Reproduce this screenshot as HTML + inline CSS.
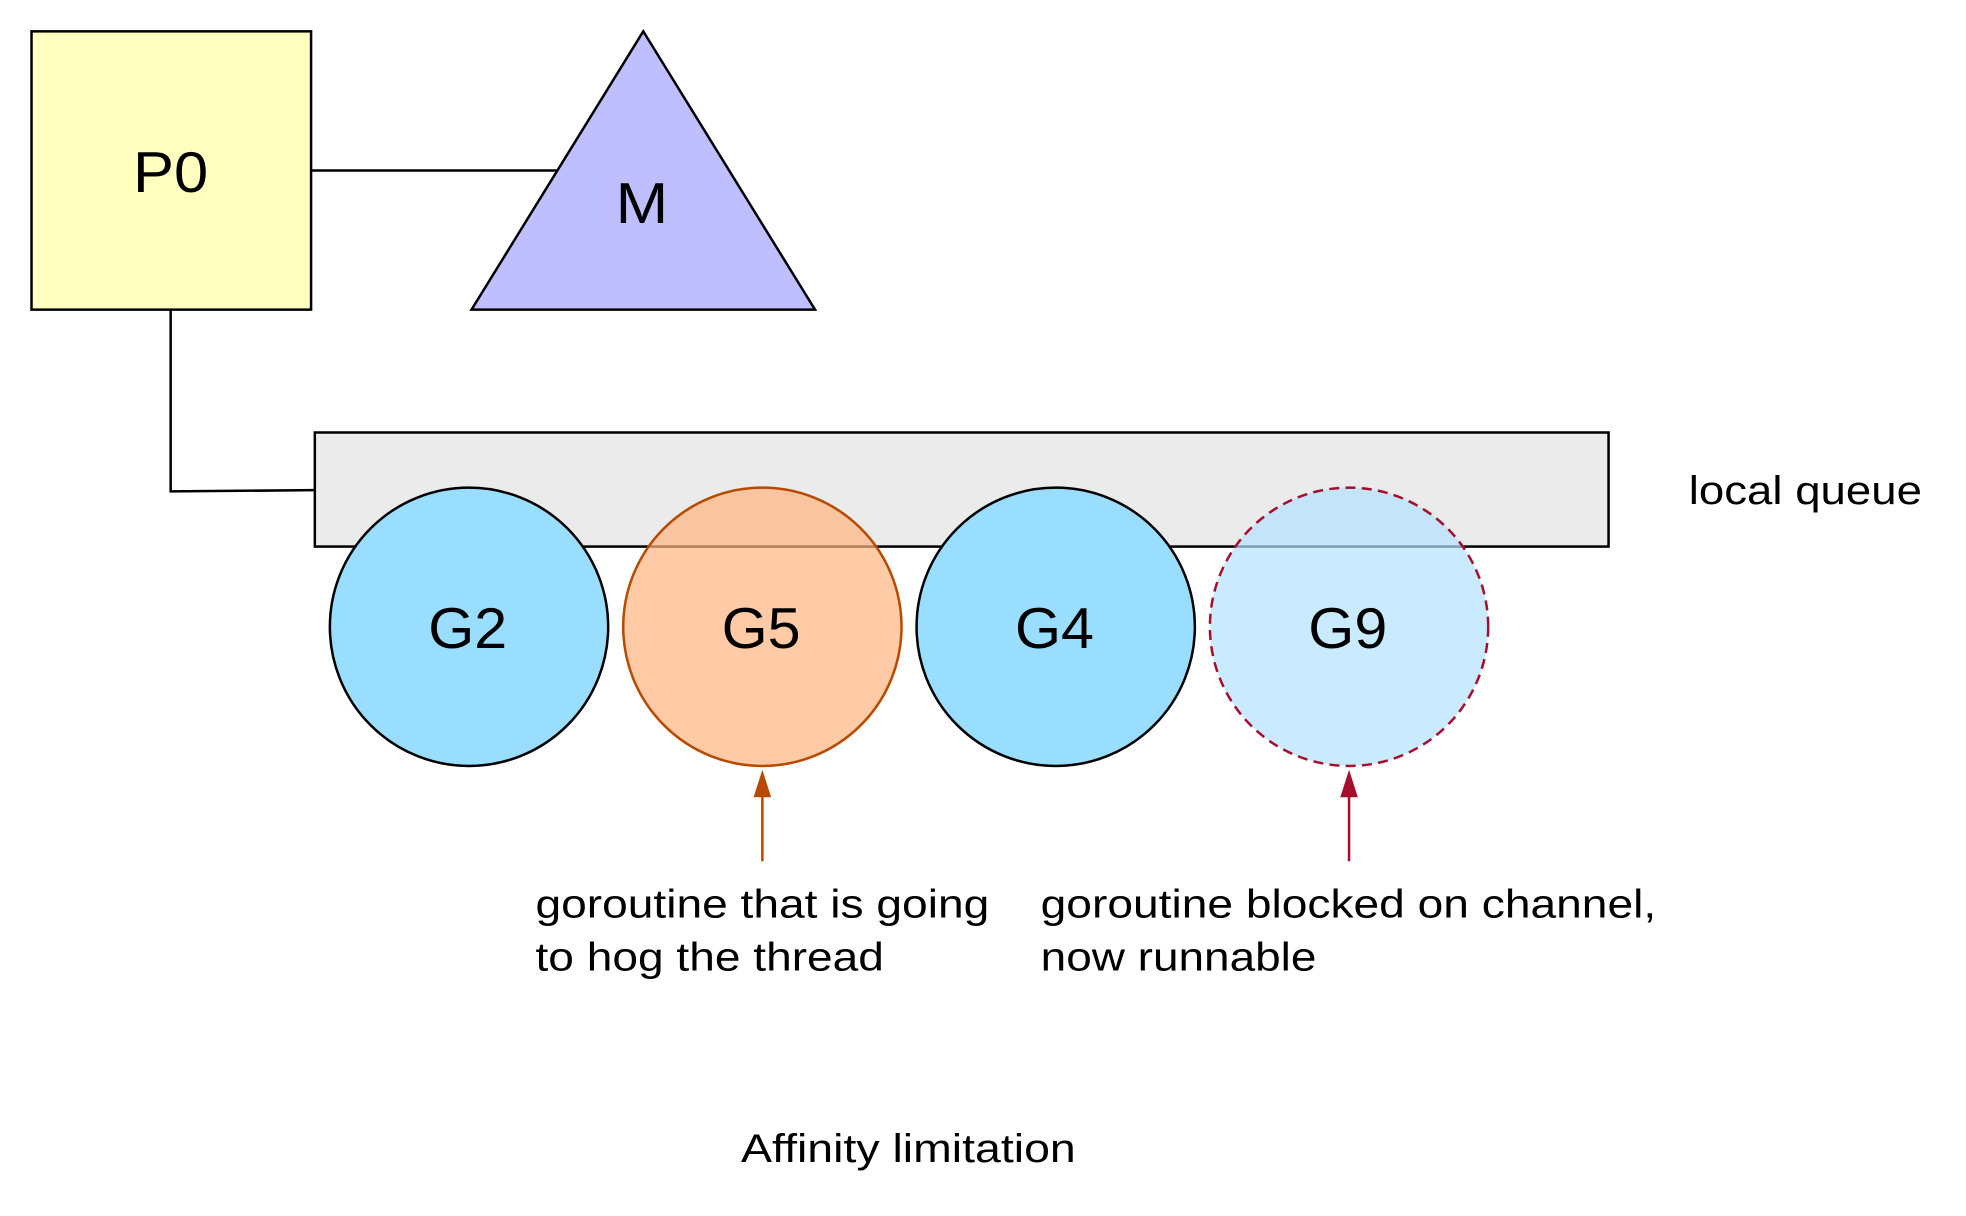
<!DOCTYPE html>
<html><head><meta charset="utf-8"><style>html,body{margin:0;padding:0;background:#fff;}svg{display:block}</style></head>
<body>
<svg width="1966" height="1216" viewBox="0 0 1568 970" xmlns="http://www.w3.org/2000/svg" font-family="Liberation Sans, Arial, sans-serif">
<rect x="0" y="0" width="1568" height="970" fill="#fff"/>
<line x1="248" y1="136" x2="444" y2="136" stroke="#000" stroke-width="2"/>
<polyline points="136,247 136,392 251,391" fill="none" stroke="#000" stroke-width="2"/>
<rect x="25" y="25" width="223" height="222" fill="#ffffc0" stroke="#000" stroke-width="2"/>
<text x="136" y="153" font-size="46" text-anchor="middle" textLength="60" lengthAdjust="spacingAndGlyphs">P0</text>
<polygon points="513,25 376,247 650,247" fill="#bfbfff" stroke="#000" stroke-width="2"/>
<text x="512" y="178" font-size="46" text-anchor="middle" textLength="42" lengthAdjust="spacingAndGlyphs">M</text>
<rect x="251" y="345" width="1032" height="91" fill="#ebebeb" stroke="#000" stroke-width="2"/>
<circle cx="374" cy="500" r="111" fill="#99ddff" stroke="#000" stroke-width="2"/>
<circle cx="608" cy="500" r="111" fill="#ffb380" fill-opacity="0.7" stroke="#b84a00" stroke-width="2"/>
<circle cx="842" cy="500" r="111" fill="#99ddff" stroke="#000" stroke-width="2"/>
<circle cx="1076" cy="500" r="111" fill="#b3e3ff" fill-opacity="0.7" stroke="#a50f2d" stroke-width="2" stroke-dasharray="8,5"/>
<g font-size="46" text-anchor="middle">
<text x="373" y="517" textLength="63" lengthAdjust="spacingAndGlyphs">G2</text><text x="607" y="517" textLength="63" lengthAdjust="spacingAndGlyphs">G5</text><text x="841" y="517" textLength="63" lengthAdjust="spacingAndGlyphs">G4</text><text x="1075" y="517" textLength="63" lengthAdjust="spacingAndGlyphs">G9</text>
</g>
<line x1="608" y1="687" x2="608" y2="630" stroke="#b84a00" stroke-width="2"/>
<polygon points="608,614 601,636 615,636" fill="#b84a00"/>
<line x1="1076" y1="687" x2="1076" y2="630" stroke="#a50f2d" stroke-width="2"/>
<polygon points="1076,614 1069,636 1083,636" fill="#a50f2d"/>
<g font-size="32" lengthAdjust="spacingAndGlyphs">
<text x="427" y="732" textLength="362" lengthAdjust="spacingAndGlyphs">goroutine that is going</text>
<text x="427" y="774" textLength="278" lengthAdjust="spacingAndGlyphs">to hog the thread</text>
<text x="830" y="732" textLength="491" lengthAdjust="spacingAndGlyphs">goroutine blocked on channel,</text>
<text x="830" y="774" textLength="220" lengthAdjust="spacingAndGlyphs">now runnable</text>
<text x="1347" y="402" textLength="186" lengthAdjust="spacingAndGlyphs">local queue</text>
<text x="591" y="927" textLength="267" lengthAdjust="spacingAndGlyphs">Affinity limitation</text>
</g>
</svg>
</body></html>
